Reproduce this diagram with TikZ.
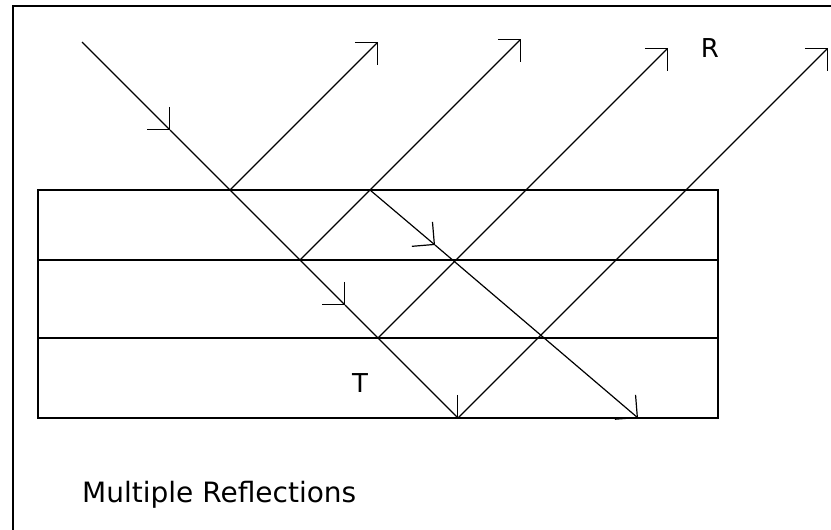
\documentclass[tikz,border=0pt]{standalone}
\usepackage{fontspec}
\setmainfont{DejaVu Sans}
\usetikzlibrary{arrows.meta}

\begin{document}
\begin{tikzpicture}[x=1pt,y=-1pt,
    slab/.style={draw=black,line width=1.8pt},
    ray/.style={draw=black,line width=1.2pt},
    hit/.style={-{Straight Barb[length=16pt,width=32pt]},draw=black,line width=1.2pt},
    lbl/.style={font=\fontsize{26}{28}\selectfont,inner sep=0pt}]
  \useasboundingbox (0,0) rectangle (831,530);
  % frame
  \draw[line width=2.6pt] (13,545) -- (13,6) -- (845,6);
  % layers
  \draw[slab] (38,190) rectangle (718,418);
  \draw[slab] (38,260) -- (718,260);
  \draw[slab] (38,338) -- (718,338);
  % points on the rays
  \coordinate (src) at (82,42);
  \coordinate (a1) at (170,130);
  \coordinate (p1) at (230,190);
  \coordinate (p2) at (300,260);
  \coordinate (a2) at (345,305);
  \coordinate (p3) at (378,338);
  \coordinate (p4) at (458,418);
  \coordinate (q1) at (370,190);
  \coordinate (a3) at (435,245);
  \coordinate (q2) at (638,418);
  \coordinate (r1) at (378,42);
  \coordinate (r2) at (521,39);
  \coordinate (r3) at (668,48);
  \coordinate (r4) at (828,48);
  % incident and transmitted
  \draw[hit] (src) -- (a1);
  \draw[hit] (a1) -- (a2);
  \draw[hit] (a2) -- (p4);
  \draw[hit] (q1) -- (a3);
  \draw[hit] (a3) -- (q2);
  % reflected
  \draw[hit] (p1) -- (r1);
  \draw[hit] (p2) -- (r2);
  \draw[hit] (p3) -- (r3);
  \draw[hit] (p4) -- (r4);
  % labels
  \node[lbl] (rlab) at (710,48) {R};
  \node[lbl] (rcut) at (839,72) {R};
  \node[lbl] (tlab) at (360,383) {T};
  \node[lbl,font=\fontsize{28}{30}\selectfont,anchor=base west] (title) at (82,502) {Multiple Reflections};
\end{tikzpicture}
\end{document}
